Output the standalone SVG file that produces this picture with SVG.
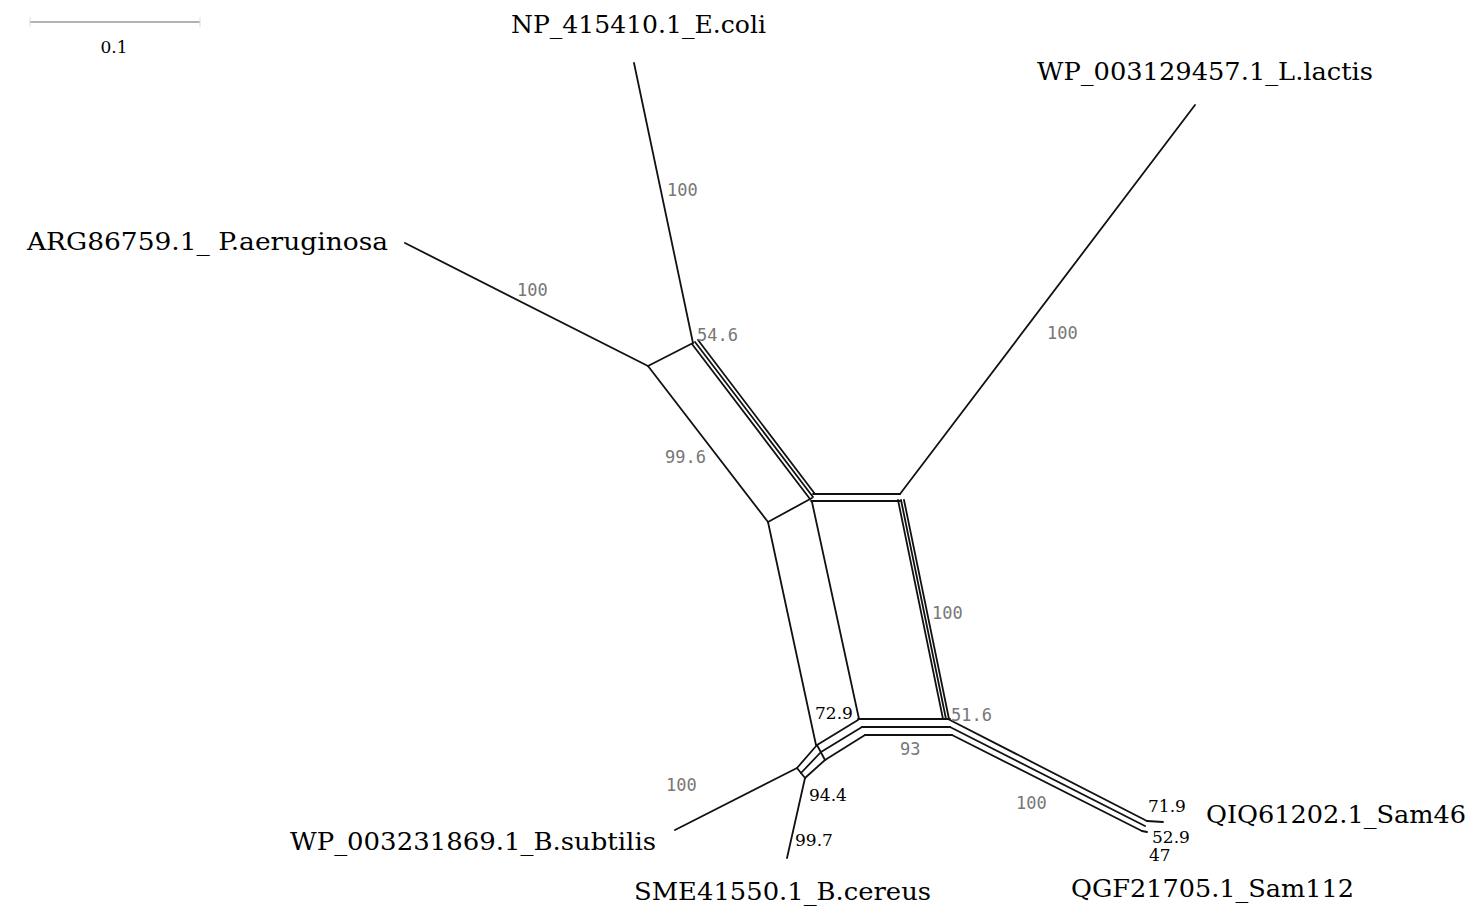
<svg xmlns="http://www.w3.org/2000/svg" width="1475" height="916" viewBox="0 0 1475 916">
<style>
.e{stroke:#111;stroke-width:1.8;fill:none;stroke-linecap:round}
.t{font-family:"DejaVu Serif","Liberation Serif",serif;font-size:24px;fill:#000}
.s{font-family:"DejaVu Serif","Liberation Serif",serif;font-size:17px;fill:#000}
.g{font-family:"DejaVu Sans Mono","Liberation Mono",monospace;font-size:17px;fill:#777}
</style>
<rect width="1475" height="916" fill="#fff"/>
<g id="scale">
<line x1="30" y1="22" x2="200" y2="22" stroke="#999" stroke-width="1.5"/>
<line x1="30" y1="17" x2="30" y2="27" stroke="#ddd" stroke-width="1"/>
<line x1="200" y1="17" x2="200" y2="27" stroke="#ddd" stroke-width="1"/>
<text class="s" x="114" y="53" text-anchor="middle" font-size="15">0.1</text>
</g>
<g id="connectors">
<line class="e" x1="634" y1="63" x2="693" y2="343"/>
<line class="e" x1="405" y1="243" x2="648" y2="366"/>
<line class="e" x1="1195" y1="105" x2="900" y2="494"/>
<line class="e" x1="797" y1="768" x2="675" y2="830"/>
<line class="e" x1="805" y1="778" x2="787" y2="858"/>
<line class="e" x1="1147" y1="821" x2="1163" y2="822"/>
<line class="e" x1="1142" y1="831" x2="1147" y2="832"/>
<line class="e" x1="693" y1="343" x2="648" y2="366"/>
<line class="e" x1="648" y1="366" x2="768" y2="522"/>
<line class="e" x1="812" y1="498" x2="768" y2="522"/>
<line class="e" x1="692" y1="344" x2="810" y2="499"/>
<line class="e" x1="695" y1="342" x2="813" y2="497"/>
<line class="e" x1="698" y1="340" x2="815" y2="494"/>
<line class="e" x1="813" y1="494" x2="900" y2="494"/>
<line class="e" x1="811" y1="501" x2="900" y2="501"/>
<line class="e" x1="898" y1="500" x2="943" y2="719"/>
<line class="e" x1="901" y1="500" x2="946" y2="719"/>
<line class="e" x1="904" y1="500" x2="949" y2="719"/>
<line class="e" x1="812" y1="502" x2="859" y2="719"/>
<line class="e" x1="768" y1="522" x2="816" y2="745"/>
<line class="e" x1="858" y1="719" x2="950" y2="719"/>
<line class="e" x1="862" y1="727" x2="950" y2="727"/>
<line class="e" x1="865" y1="735" x2="952" y2="735"/>
<line class="e" x1="858" y1="720" x2="817" y2="745"/>
<line class="e" x1="862" y1="727" x2="821" y2="752"/>
<line class="e" x1="865" y1="735" x2="825" y2="760"/>
<line class="e" x1="817" y1="745" x2="797" y2="768"/>
<line class="e" x1="821" y1="752" x2="801" y2="773"/>
<line class="e" x1="825" y1="760" x2="805" y2="778"/>
<line class="e" x1="817" y1="745" x2="825" y2="760"/>
<line class="e" x1="797" y1="768" x2="805" y2="778"/>
<line class="e" x1="948" y1="719" x2="1147" y2="821"/>
<line class="e" x1="950" y1="727" x2="1145" y2="826"/>
<line class="e" x1="952" y1="735" x2="1142" y2="831"/>
</g>
<g id="n-ecoli"><text class="t" x="511" y="33" textLength="255" lengthAdjust="spacingAndGlyphs">NP_415410.1_E.coli</text></g>
<g id="n-llactis"><text class="t" x="1037" y="80" textLength="336" lengthAdjust="spacingAndGlyphs">WP_003129457.1_L.lactis</text></g>
<g id="n-paer"><text class="t" x="27" y="250" textLength="361" lengthAdjust="spacingAndGlyphs">ARG86759.1_ P.aeruginosa</text></g>
<g id="n-bsub"><text class="t" x="290" y="850" textLength="366" lengthAdjust="spacingAndGlyphs">WP_003231869.1_B.subtilis</text></g>
<g id="n-bcer"><text class="t" x="634" y="900" textLength="297" lengthAdjust="spacingAndGlyphs">SME41550.1_B.cereus</text></g>
<g id="n-sam112"><text class="t" x="1071" y="897" textLength="283" lengthAdjust="spacingAndGlyphs">QGF21705.1_Sam112</text></g>
<g id="n-sam46"><text class="t" x="1206" y="823" textLength="260" lengthAdjust="spacingAndGlyphs">QIQ61202.1_Sam46</text></g>
<g id="supports">
<text class="g" x="667" y="196">100</text>
<text class="g" x="517" y="296">100</text>
<text class="g" x="1047" y="339">100</text>
<text class="g" x="697" y="341">54.6</text>
<text class="g" x="665" y="463">99.6</text>
<text class="g" x="932" y="619">100</text>
<text class="s" x="815" y="719">72.9</text>
<text class="g" x="951" y="721">51.6</text>
<text class="g" x="900" y="755">93</text>
<text class="g" x="666" y="791">100</text>
<text class="s" x="809" y="801">94.4</text>
<text class="s" x="795" y="846">99.7</text>
<text class="g" x="1016" y="809">100</text>
<text class="s" x="1148" y="812">71.9</text>
<text class="s" x="1152" y="843">52.9</text>
<text class="s" x="1149" y="861">47</text>
</g>
</svg>
